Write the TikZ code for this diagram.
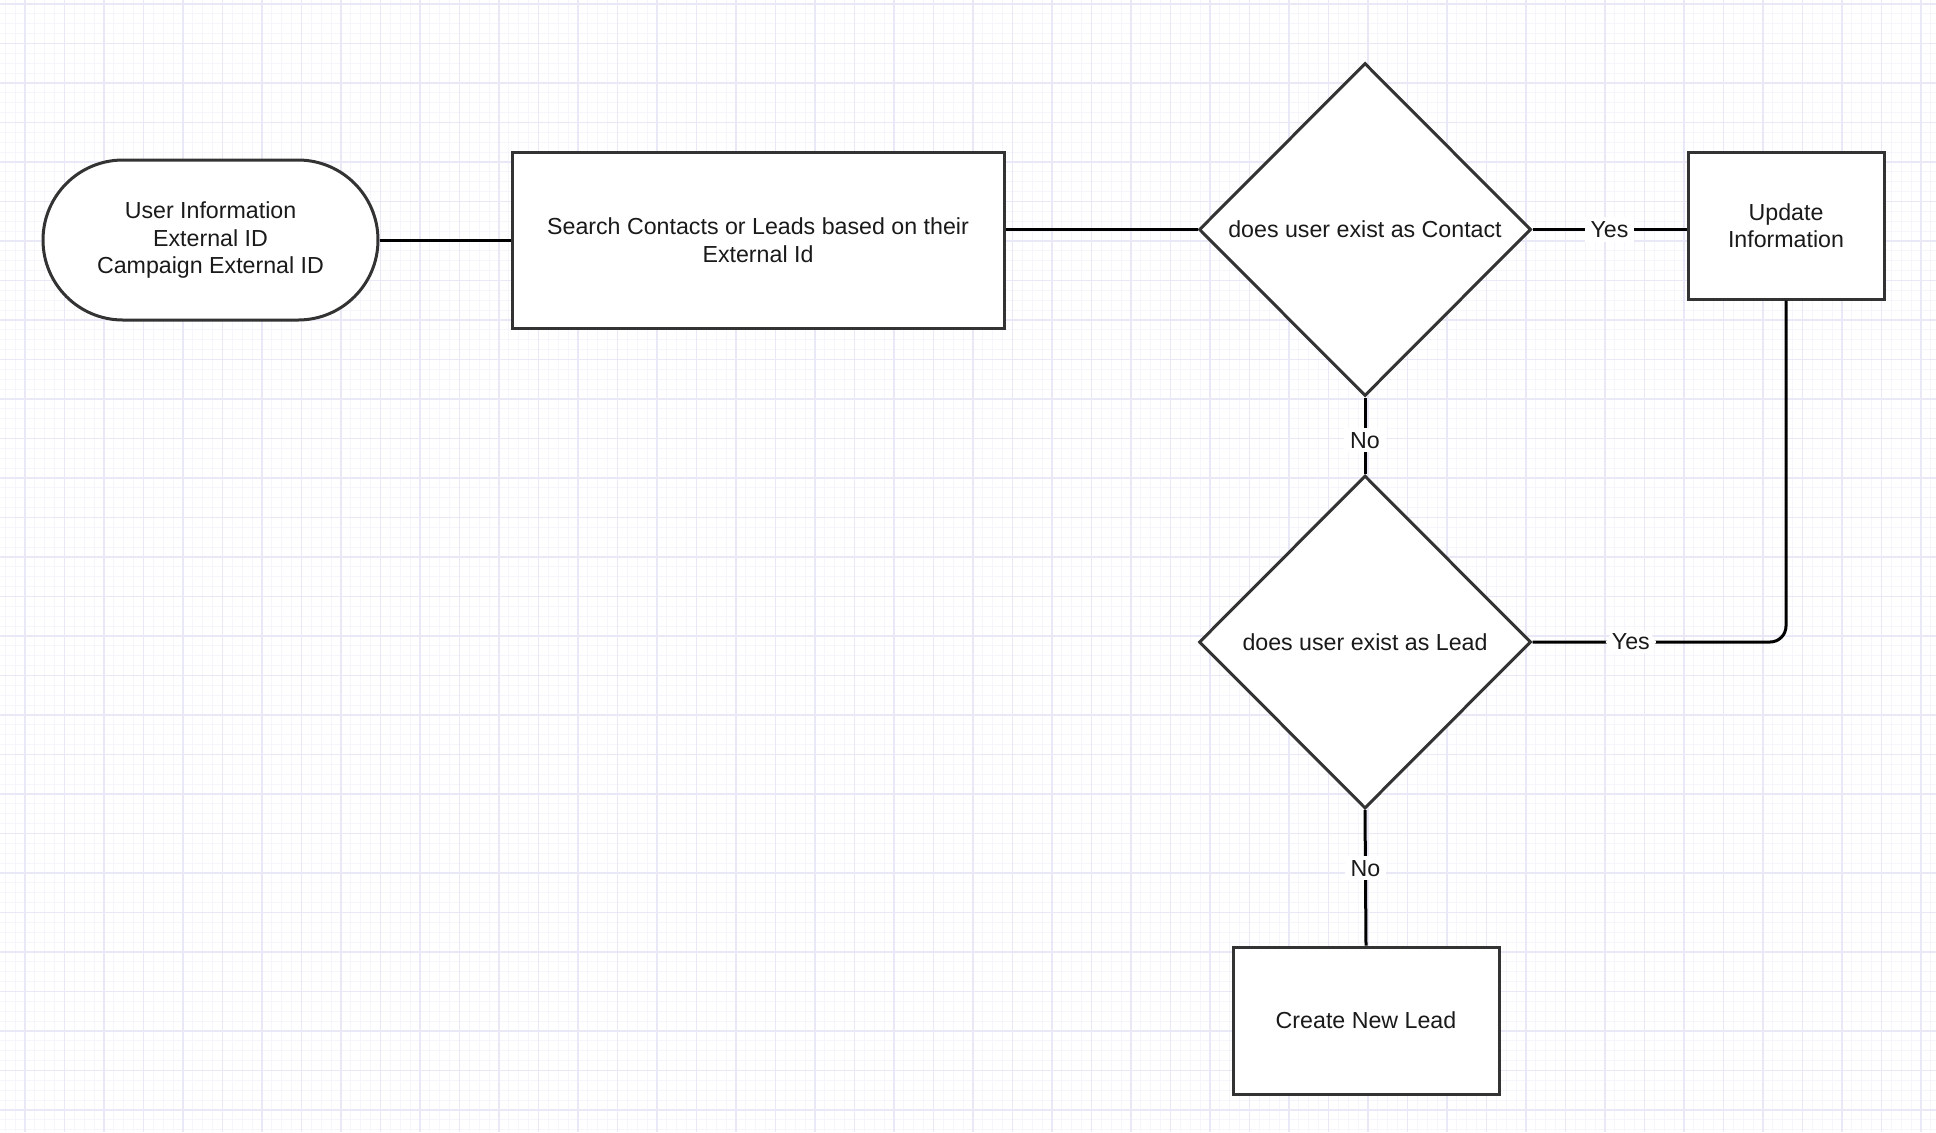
\documentclass[tikz,border=0pt]{standalone}
\usepackage{fontspec}
\setmainfont{Liberation Sans}
\usetikzlibrary{shapes.geometric}
\definecolor{minorg}{HTML}{F5F5FC}
\definecolor{majorg}{HTML}{E8E8F7}
\definecolor{shapeborder}{HTML}{333333}
\definecolor{txt}{HTML}{1A1A1A}
\tikzset{
  base/.style={draw=shapeborder, line width=1.5pt, fill=white, text=txt, align=center,
    font=\fontsize{11.6}{13.8}\selectfont, inner sep=0pt},
  term/.style={base, rectangle, rounded corners=40pt, minimum width=167.5pt, minimum height=80pt},
  proc/.style={base, rectangle},
  decision/.style={base, diamond, minimum width=166pt, minimum height=166.5pt},
  conn/.style={draw=black, line width=1.5pt},
  lbl/.style={fill=white, text=txt, inner xsep=3pt, inner ysep=2pt, font=\fontsize{11.6}{13.8}\selectfont},
  minorline/.style={draw=minorg, line width=0.5pt},
  majorline/.style={draw=majorg, line width=0.6pt}
}
\begin{document}
\begin{tikzpicture}[x=0.5pt,y=-0.5pt]
\useasboundingbox (0,0) rectangle (1936,1132);
\fill[white] (0,0) rectangle (1936,1132);
% grid
\foreach \i in {-4,...,200} {
  \draw[minorline] ({25+9.875*\i},0) -- ({25+9.875*\i},1132);
}
\foreach \i in {-4,...,116} {
  \draw[minorline] (0,{4+9.875*\i}) -- (1936,{4+9.875*\i});
}
\foreach \i in {-1,...,50} {
  \draw[majorline] ({25+39.5*\i},0) -- ({25+39.5*\i},1132);
}
\foreach \i in {0,...,29} {
  \draw[majorline] (0,{4+39.5*\i}) -- (1936,{4+39.5*\i});
}
% nodes
\node[term] (start) at (210.5,240) {User Information\\External ID\\Campaign External ID};
\node[proc, minimum width=246pt, minimum height=88pt] (search) at (758,240) {Search Contacts or Leads based on their\\External Id};
\node[decision] (d1) at (1365,229.5) {does user exist as Contact};
\node[proc, minimum width=98pt, minimum height=73.5pt] (upd) at (1786,225.5) {Update\\Information};
\node[decision] (d2) at (1365,642) {does user exist as Lead};
\node[proc, minimum width=133pt, minimum height=73.5pt] (create) at (1366,1020.5) {Create New Lead};
% connectors
\draw[conn] (start.east) -- (search.west);
\draw[conn] (search.east |- d1.west) -- (d1.west);
\draw[conn] (d1.east) -- node[lbl] {Yes} (upd.west |- d1.east);
\draw[conn] (d1.south) -- node[lbl, pos=0.56] {No} (d2.north);
\draw[conn, rounded corners=8pt] (d2.east) -| node[lbl, pos=0.194] {Yes} (upd.south);
\draw[conn] (d2.south) -- node[lbl, pos=0.43] {No} (create.north);
\end{tikzpicture}
\end{document}
